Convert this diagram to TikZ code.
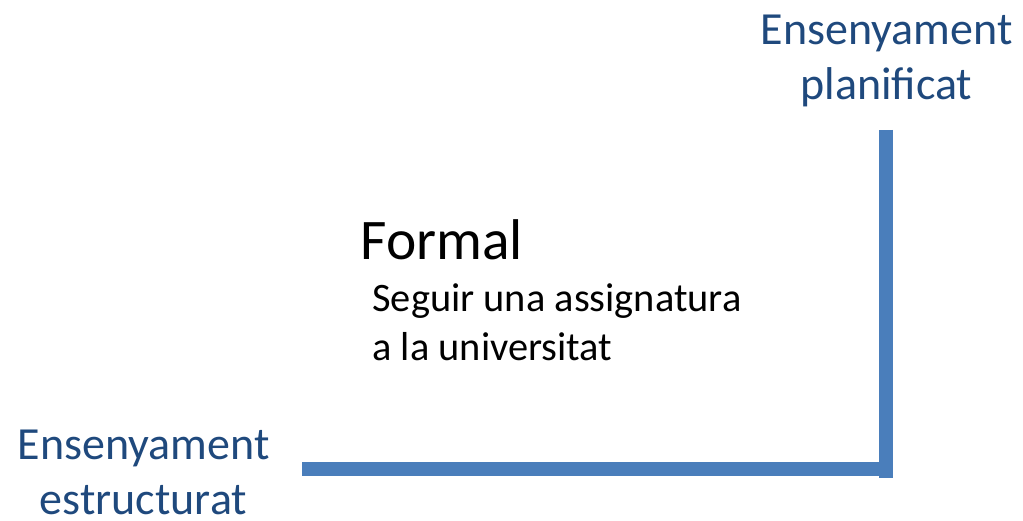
\documentclass[tikz,border=0pt]{standalone}
\usepackage{fontspec}
\setmainfont{Carlito}
\usepackage{xcolor}
\definecolor{axisblue}{HTML}{4A7EBB}
\definecolor{labelblue}{HTML}{1F497D}

\begin{document}
\begin{tikzpicture}[x=0.5pt, y=0.5pt,
	axis/.style={axisblue, line width=7pt},
	axislabel/.style={labelblue, align=center, inner sep=0pt, font=\fontsize{23}{27.5}\selectfont}]
		\useasboundingbox (0,0) rectangle (1023,520);
		\coordinate (origin) at (302,51.5);
		\coordinate (corner) at (893,51.5);
		\coordinate (top) at (886,390);
		\coordinate (bottom) at (886,42);
		\draw[axis] (origin) -- (corner);
		\draw[axis] (top) -- (bottom);
%		\draw[step=10, thin, gray] (0,0) grid (1023,520);
		\node[axislabel, anchor=north] (planificat) at (886.5,505) {Ensenyament\\planificat};
		\node[axislabel, anchor=north] (estructurat) at (143.5,90) {Ensenyament\\estructurat};
		\node[anchor=base west, inner sep=0pt, font=\fontsize{28.7}{30}\selectfont] (formal) at (360,260) {Formal};
		\node[anchor=north west, inner sep=0pt, align=left, font=\fontsize{20.2}{24.5}\selectfont] (exemple) at (372,237) {Seguir una assignatura\\a la universitat};
	\end{tikzpicture}
\end{document}
